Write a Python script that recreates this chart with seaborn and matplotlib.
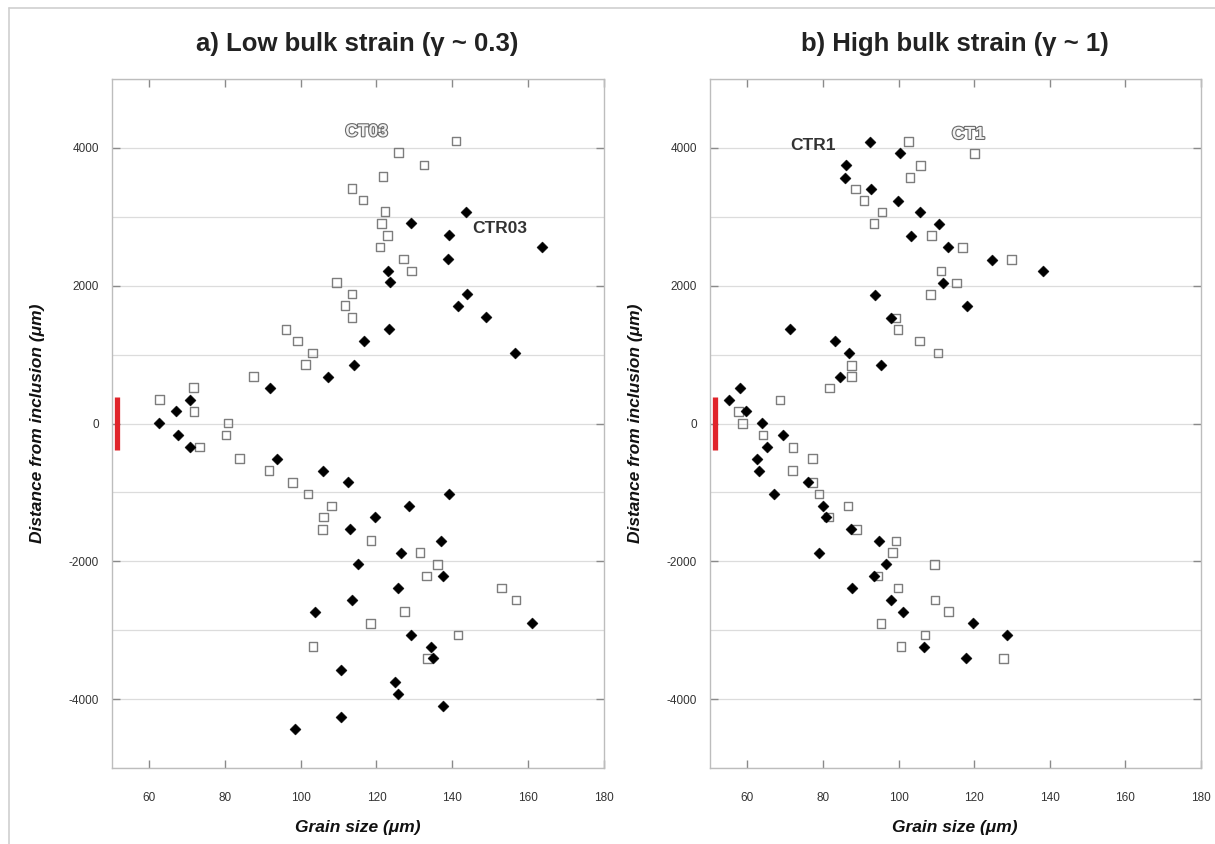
import numpy as np
import pandas as pd
import matplotlib
matplotlib.use("Agg")
import matplotlib.pyplot as plt
import matplotlib.patheffects as pe
from matplotlib.lines import Line2D
import seaborn as sns

# ---------------- data ----------------
# Panel a) low bulk strain
ct03_x = [141.0, 125.8, 132.6, 121.7, 113.6, 116.5, 122.3, 121.4, 122.9, 120.9, 127.1, 129.2,
          109.4, 113.6, 111.7, 113.6, 96.1, 99.1, 103.1, 101.3, 87.5, 71.6, 62.7, 71.8, 80.8,
          80.2, 73.2, 83.8, 91.6, 97.8, 101.9, 108.2, 106.0, 105.7, 118.6, 131.5, 136.1, 133.2,
          153.0, 156.9, 127.4, 118.4, 141.6, 103.2, 133.5]
ct03_y = [4100, 3930, 3750, 3585, 3410, 3245, 3080, 2905, 2730, 2560, 2390, 2215,
          2050, 1880, 1710, 1540, 1365, 1200, 1025, 855, 680, 520, 345, 175, 5,
          -165, -340, -510, -685, -855, -1025, -1195, -1360, -1535, -1700, -1875, -2045, -2215,
          -2390, -2560, -2730, -2900, -3070, -3240, -3410]

ctr03_x = [143.6, 129.2, 139.2, 163.7, 138.8, 123.0, 123.7, 143.9, 141.5, 148.9, 123.2, 116.8,
           156.6, 114.1, 107.2, 91.9, 70.8, 67.1, 62.5, 67.6, 70.8, 93.7, 106.0, 112.4, 139.3,
           128.5, 119.6, 113.0, 137.0, 126.4, 115.1, 137.5, 125.7, 113.6, 103.8, 161.0, 129.1,
           134.4, 134.9, 110.7, 125.0, 125.7, 137.5, 110.6, 98.4]
ctr03_y = [3070, 2905, 2730, 2560, 2390, 2215, 2050, 1880, 1710, 1540, 1365, 1200,
           1025, 850, 680, 515, 345, 175, 5, -165, -340, -515, -685, -850, -1025,
           -1195, -1360, -1530, -1705, -1875, -2045, -2215, -2390, -2560, -2730, -2900, -3070,
           -3240, -3410, -3580, -3755, -3925, -4095, -4265, -4435]

# Panel b) high bulk strain
ct1_x = [102.6, 120.1, 105.8, 103.0, 88.6, 90.9, 95.6, 93.5, 108.7, 116.9, 129.9, 111.2,
         115.4, 108.5, 99.3, 99.8, 105.6, 110.4, 87.5, 87.6, 81.8, 68.6, 57.6, 58.7, 64.2,
         72.1, 77.2, 71.9, 77.4, 79.0, 86.6, 81.5, 88.9, 99.3, 98.4, 109.5, 94.4, 99.9,
         109.7, 113.2, 95.4, 107.0, 100.7, 127.7]
ct1_y = [4090, 3920, 3745, 3570, 3405, 3240, 3070, 2905, 2725, 2555, 2380, 2215,
         2040, 1875, 1530, 1365, 1195, 1025, 845, 680, 515, 340, 175, 0, -170,
         -345, -510, -685, -855, -1025, -1195, -1360, -1535, -1705, -1875, -2050, -2215, -2390,
         -2560, -2730, -2900, -3070, -3240, -3410]

ctr1_x = [92.4, 100.4, 86.2, 85.9, 92.8, 99.9, 105.8, 110.8, 103.3, 113.2, 124.7, 138.1,
          111.7, 93.9, 118.1, 97.9, 71.3, 83.1, 87.0, 95.4, 84.5, 58.1, 55.2, 59.7, 63.9,
          69.4, 65.1, 62.5, 63.2, 76.0, 67.1, 80.1, 80.7, 87.5, 94.8, 79.0, 96.8, 93.4,
          87.7, 98.0, 101.2, 119.6, 128.8, 106.8, 117.8]
ctr1_y = [4085, 3920, 3745, 3570, 3400, 3235, 3065, 2895, 2725, 2555, 2380, 2210,
          2040, 1870, 1700, 1530, 1365, 1195, 1020, 845, 680, 510, 340, 175, 5,
          -165, -340, -515, -685, -850, -1025, -1195, -1360, -1535, -1705, -1880, -2045, -2215,
          -2390, -2560, -2730, -2900, -3070, -3240, -3410]

inclusion_half = 380  # half-length of the inclusion bar (µm)

titles = ["a) Low bulk strain (\u03b3 ~ 0.3)", "b) High bulk strain (\u03b3 ~ 1)"]
x_ticks = [60, 80, 100, 120, 140, 160, 180]
y_ticks = [-4000, -2000, 0, 2000, 4000]

# ---------------- style ----------------
sns.set_theme(style="white")
plt.rcParams["font.family"] = ["Liberation Sans", "DejaVu Sans"]

fig = plt.figure(figsize=(12.15, 8.44), dpi=100)
W, H = 1215, 844
ax_a = fig.add_axes([111.5 / W, 1 - 768 / H, 492 / W, 689 / H])
ax_b = fig.add_axes([709.5 / W, 1 - 768 / H, 491.5 / W, 689 / H])

panels = [
    (ax_a, ct03_x, ct03_y, ctr03_x, ctr03_y),
    (ax_b, ct1_x, ct1_y, ctr1_x, ctr1_y),
]

for i, (ax, ox, oy, fx, fy) in enumerate(panels):
    open_df = pd.DataFrame({"size": ox, "dist": oy})
    fill_df = pd.DataFrame({"size": fx, "dist": fy})
    # horizontal gridlines every 1000
    for g in range(-5000, 5001, 1000):
        ax.axhline(g, color="#dcdcdc", lw=0.9, zorder=0)
    sns.scatterplot(data=open_df, x="size", y="dist", ax=ax, marker="s", s=38,
                    facecolor="none", edgecolor="#7d7d7d", linewidth=1.0, zorder=2)
    sns.scatterplot(data=fill_df, x="size", y="dist", ax=ax, marker="D", s=32,
                    color="black", edgecolor="black", linewidth=0.3, zorder=3)
    # inclusion bar
    ax.vlines(51.5, -inclusion_half, inclusion_half, color="#e0242b", lw=3.8, zorder=4)

    ax.set_xlim(50, 180)
    ax.set_ylim(-5000, 5000)
    ax.set_xticks(x_ticks)
    ax.set_yticks(y_ticks)
    ax.set_xticklabels([str(t) for t in x_ticks])
    ax.set_yticklabels([str(t) for t in y_ticks])
    ax.tick_params(axis="x", direction="in", length=6, width=1, color="#8a8a8a",
                   top=True, bottom=True, pad=17, labelsize=8.5, labelcolor="#333333")
    ax.tick_params(axis="y", direction="in", length=6, width=1, color="#8a8a8a",
                   left=True, right=True, pad=9, labelsize=8.5, labelcolor="#333333")
    for sp in ax.spines.values():
        sp.set_visible(True)
        sp.set_color("#bdbdbd")
        sp.set_linewidth(1.0)
    ax.grid(False)

    ax.set_xlabel("Grain size (\u03bcm)", fontsize=12.5, fontweight="bold", style="italic",
                  color="#111111")
    ax.set_ylabel("Distance from inclusion (\u03bcm)", fontsize=12.5, fontweight="bold",
                  style="italic", color="#111111")
    ax.xaxis.set_label_coords(0.5, -0.076)
    ax.yaxis.set_label_coords(-0.136, 0.5)
    ax.set_title(titles[i], fontsize=18.5, fontweight="bold", color="#222222", pad=20)

# series labels
outline = [pe.Stroke(linewidth=1.6, foreground="#6a6a6a"), pe.Normal()]
ax_a.text(117.4, 4234, "CT03", fontsize=12.5, fontweight="bold", color="#f2f2f2",
          ha="center", va="center", path_effects=outline, zorder=5)
ax_a.text(152.6, 2830, "CTR03", fontsize=12.5, fontweight="bold", color="#333333",
          ha="center", va="center", zorder=5)
ax_b.text(77.5, 4031, "CTR1", fontsize=12.5, fontweight="bold", color="#333333",
          ha="center", va="center", zorder=5)
ax_b.text(118.5, 4196, "CT1", fontsize=12.5, fontweight="bold", color="#f2f2f2",
          ha="center", va="center", path_effects=outline, zorder=5)

# figure frame (top and left edges)
fig.add_artist(Line2D([9 / W, 1.0], [1 - 8 / H, 1 - 8 / H], transform=fig.transFigure,
                      color="#cfcfcf", lw=1.2))
fig.add_artist(Line2D([9 / W, 9 / W], [0.0, 1 - 8 / H], transform=fig.transFigure,
                      color="#cfcfcf", lw=1.2))

fig.savefig("out.png", dpi=100)
